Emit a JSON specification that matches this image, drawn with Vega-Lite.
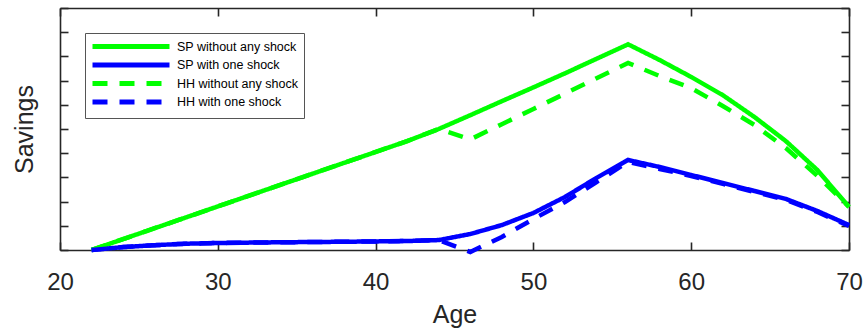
{
  "$schema": "https://vega.github.io/schema/vega-lite/v6.json",
  "autosize": "none",
  "width": 789,
  "height": 242,
  "padding": {"left": 60, "top": 8, "right": 15, "bottom": 80},
  "background": "white",
  "config": {
    "view": {"stroke": null},
    "axis": {
      "domainColor": "#262626", "domainWidth": 1.6,
      "tickColor": "#262626", "tickWidth": 1.6, "tickSize": -8,
      "grid": false,
      "labelFont": "Liberation Sans", "labelFontSize": 24, "labelColor": "#262626",
      "titleFont": "Liberation Sans", "titleFontSize": 25, "titleFontWeight": "normal", "titleColor": "#262626"
    }
  },
  "data": {"values": [
    {"age": 22, "value": 0, "series": "SP without any shock"},
    {"age": 26, "value": 0.9, "series": "SP without any shock"},
    {"age": 30, "value": 1.8, "series": "SP without any shock"},
    {"age": 34, "value": 2.7, "series": "SP without any shock"},
    {"age": 38, "value": 3.6, "series": "SP without any shock"},
    {"age": 42, "value": 4.5, "series": "SP without any shock"},
    {"age": 44, "value": 5.0, "series": "SP without any shock"},
    {"age": 46, "value": 5.57, "series": "SP without any shock"},
    {"age": 48, "value": 6.15, "series": "SP without any shock"},
    {"age": 50, "value": 6.72, "series": "SP without any shock"},
    {"age": 52, "value": 7.3, "series": "SP without any shock"},
    {"age": 54, "value": 7.9, "series": "SP without any shock"},
    {"age": 56, "value": 8.5, "series": "SP without any shock"},
    {"age": 58, "value": 7.85, "series": "SP without any shock"},
    {"age": 60, "value": 7.15, "series": "SP without any shock"},
    {"age": 62, "value": 6.4, "series": "SP without any shock"},
    {"age": 64, "value": 5.5, "series": "SP without any shock"},
    {"age": 66, "value": 4.5, "series": "SP without any shock"},
    {"age": 68, "value": 3.3, "series": "SP without any shock"},
    {"age": 70, "value": 1.78, "series": "SP without any shock"},

    {"age": 22, "value": 0, "series": "SP with one shock"},
    {"age": 24, "value": 0.12, "series": "SP with one shock"},
    {"age": 26, "value": 0.2, "series": "SP with one shock"},
    {"age": 28, "value": 0.26, "series": "SP with one shock"},
    {"age": 30, "value": 0.29, "series": "SP with one shock"},
    {"age": 34, "value": 0.32, "series": "SP with one shock"},
    {"age": 38, "value": 0.34, "series": "SP with one shock"},
    {"age": 42, "value": 0.37, "series": "SP with one shock"},
    {"age": 44, "value": 0.41, "series": "SP with one shock"},
    {"age": 46, "value": 0.66, "series": "SP with one shock"},
    {"age": 48, "value": 1.03, "series": "SP with one shock"},
    {"age": 50, "value": 1.53, "series": "SP with one shock"},
    {"age": 52, "value": 2.19, "series": "SP with one shock"},
    {"age": 54, "value": 2.98, "series": "SP with one shock"},
    {"age": 56, "value": 3.72, "series": "SP with one shock"},
    {"age": 58, "value": 3.43, "series": "SP with one shock"},
    {"age": 60, "value": 3.1, "series": "SP with one shock"},
    {"age": 62, "value": 2.77, "series": "SP with one shock"},
    {"age": 64, "value": 2.44, "series": "SP with one shock"},
    {"age": 66, "value": 2.11, "series": "SP with one shock"},
    {"age": 68, "value": 1.61, "series": "SP with one shock"},
    {"age": 70, "value": 1.03, "series": "SP with one shock"},

    {"age": 22, "value": 0, "series": "HH without any shock"},
    {"age": 26, "value": 0.9, "series": "HH without any shock"},
    {"age": 30, "value": 1.8, "series": "HH without any shock"},
    {"age": 34, "value": 2.7, "series": "HH without any shock"},
    {"age": 38, "value": 3.6, "series": "HH without any shock"},
    {"age": 42, "value": 4.5, "series": "HH without any shock"},
    {"age": 44, "value": 5.0, "series": "HH without any shock"},
    {"age": 46, "value": 4.57, "series": "HH without any shock"},
    {"age": 48, "value": 5.2, "series": "HH without any shock"},
    {"age": 50, "value": 5.83, "series": "HH without any shock"},
    {"age": 52, "value": 6.46, "series": "HH without any shock"},
    {"age": 54, "value": 7.1, "series": "HH without any shock"},
    {"age": 56, "value": 7.73, "series": "HH without any shock"},
    {"age": 58, "value": 7.19, "series": "HH without any shock"},
    {"age": 60, "value": 6.69, "series": "HH without any shock"},
    {"age": 62, "value": 5.95, "series": "HH without any shock"},
    {"age": 64, "value": 5.17, "series": "HH without any shock"},
    {"age": 66, "value": 4.21, "series": "HH without any shock"},
    {"age": 68, "value": 3.06, "series": "HH without any shock"},
    {"age": 70, "value": 1.78, "series": "HH without any shock"},

    {"age": 22, "value": 0, "series": "HH with one shock"},
    {"age": 24, "value": 0.12, "series": "HH with one shock"},
    {"age": 26, "value": 0.2, "series": "HH with one shock"},
    {"age": 28, "value": 0.26, "series": "HH with one shock"},
    {"age": 30, "value": 0.29, "series": "HH with one shock"},
    {"age": 34, "value": 0.32, "series": "HH with one shock"},
    {"age": 38, "value": 0.34, "series": "HH with one shock"},
    {"age": 42, "value": 0.37, "series": "HH with one shock"},
    {"age": 44, "value": 0.41, "series": "HH with one shock"},
    {"age": 46, "value": -0.08, "series": "HH with one shock"},
    {"age": 48, "value": 0.54, "series": "HH with one shock"},
    {"age": 50, "value": 1.28, "series": "HH with one shock"},
    {"age": 52, "value": 1.98, "series": "HH with one shock"},
    {"age": 54, "value": 2.81, "series": "HH with one shock"},
    {"age": 56, "value": 3.64, "series": "HH with one shock"},
    {"age": 58, "value": 3.35, "series": "HH with one shock"},
    {"age": 60, "value": 3.06, "series": "HH with one shock"},
    {"age": 62, "value": 2.73, "series": "HH with one shock"},
    {"age": 64, "value": 2.4, "series": "HH with one shock"},
    {"age": 66, "value": 2.07, "series": "HH with one shock"},
    {"age": 68, "value": 1.57, "series": "HH with one shock"},
    {"age": 70, "value": 0.99, "series": "HH with one shock"}
  ]},
  "layer": [
    {
      "mark": {"type": "line", "strokeWidth": 4.5, "clip": false},
      "encoding": {
        "x": {"field": "age", "type": "quantitative",
              "scale": {"domain": [20, 70], "nice": false, "zero": false},
              "axis": {"orient": "bottom", "values": [20, 30, 40, 50, 60, 70], "title": "Age",
                       "labelPadding": 28, "labelFlush": false, "labelOverlap": false, "titlePadding": 8}},
        "y": {"field": "value", "type": "quantitative",
              "scale": {"domain": [0, 10], "nice": false, "zero": false},
              "axis": {"orient": "left", "values": [0, 1, 2, 3, 4, 5, 6, 7, 8, 9, 10], "labels": false,
                       "title": "Savings", "titlePadding": 22}},
        "color": {"field": "series", "type": "nominal",
                  "scale": {"domain": ["SP without any shock", "SP with one shock", "HH without any shock", "HH with one shock"],
                            "range": ["#00ff00", "#0000ff", "#00ff00", "#0000ff"]},
                  "legend": {"title": null, "orient": "none", "legendX": 25, "legendY": 25,
                             "symbolType": "M-7.7,0H7.7", "symbolSize": 100, "symbolStrokeWidth": 5,
                             "symbolOffset": 32.5, "labelOffset": 38.5, "rowPadding": -2.5,
                             "labelFont": "Liberation Sans", "labelFontSize": 12.5, "labelColor": "#000000",
                             "fillColor": "white", "strokeColor": "#555555", "padding": 6}},
        "strokeDash": {"field": "series", "type": "nominal",
                       "scale": {"domain": ["SP without any shock", "SP with one shock", "HH without any shock", "HH with one shock"],
                                 "range": [[1, 0], [1, 0], [15, 12], [15, 12]]},
                       "legend": {"title": null}}
      }
    },
    {
      "mark": {"type": "point", "opacity": 0},
      "encoding": {
        "x": {"field": "age", "type": "quantitative",
              "axis": {"orient": "top", "values": [20, 30, 40, 50, 60, 70], "labels": false, "title": null}},
        "y": {"field": "value", "type": "quantitative",
              "axis": {"orient": "right", "values": [0, 1, 2, 3, 4, 5, 6, 7, 8, 9, 10], "labels": false, "title": null}}
      }
    }
  ],
  "resolve": {"axis": {"x": "independent", "y": "independent"}}
}
